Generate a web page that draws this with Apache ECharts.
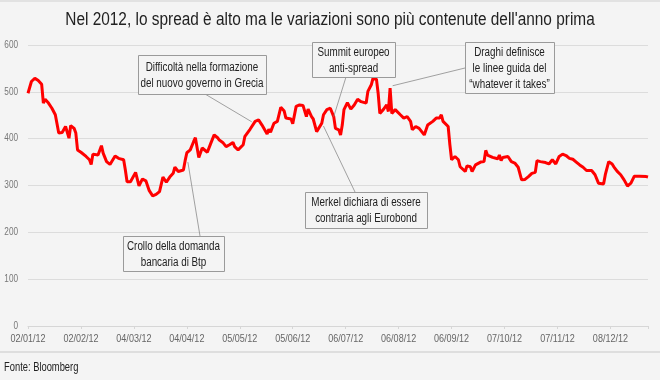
<!DOCTYPE html>
<html>
<head>
<meta charset="utf-8">
<script src="https://cdn.jsdelivr.net/npm/echarts@6/dist/echarts.min.js"></script>
<style>
html,body{margin:0;padding:0;background:#f4f4f4;}
#c{width:660px;height:380px;}
</style>
</head>
<body>
<div id="c"></div>
<script>
// Giorni trascorsi dal 02/01/12 (asse x) e spread in punti base
var days = [0,1,2,4,6,8,9,10,12,14,16,18,20,22,24,25,27,28,29,31,34,36,37,38,41,43,44,46,48,51,53,56,57,58,60,61,63,65,67,69,71,73,75,77,79,81,83,85,86,88,91,92,93,95,97,98,100,102,105,107,109,111,112,114,116,118,120,121,123,126,127,128,130,133,135,137,140,141,142,144,146,148,150,151,154,155,157,159,161,163,164,166,167,169,170,172,173,175,177,179,180,182,183,184,185,187,189,191,193,195,198,199,201,202,204,205,206,208,210,211,212,213,215,218,220,222,224,225,227,229,232,234,237,239,241,242,243,246,247,248,250,252,253,254,256,257,259,260,262,265,267,268,269,272,275,276,277,278,281,283,285,287,289,291,293,295,297,298,300,303,305,307,309,311,313,315,317,319,321,323,325,327,330,332,334,337,338,339,340,342,343,345,347,349,351,353,355,358,362,363];
var spread = [497,499,522,529,524,516,476,484,476,465,451,412,413,426,401,428,422,412,376,371,362,355,345,367,365,385,369,351,345,363,358,355,333,308,308,312,328,299,314,310,289,278,281,287,318,307,318,326,339,330,333,353,370,376,394,402,360,380,371,390,408,402,397,392,383,387,392,383,376,387,405,401,420,437,440,429,410,420,414,433,437,467,459,444,442,432,469,472,471,447,463,447,442,415,417,433,451,462,465,447,422,419,408,429,462,477,463,472,484,479,476,501,515,529,527,497,454,462,472,458,508,454,462,451,444,447,437,419,426,422,408,429,437,444,444,451,437,426,387,355,362,355,340,344,330,342,340,330,344,350,351,375,365,360,357,365,353,360,362,351,348,339,312,313,319,326,328,353,351,349,346,355,346,362,367,364,358,356,350,344,339,332,332,323,305,303,323,326,351,346,340,330,323,312,299,305,320,320,319,318];
var xTickLabels = ['02/01/12','02/02/12','04/03/12','04/04/12','05/05/12','05/06/12','06/07/12','06/08/12','06/09/12','07/10/12','07/11/12','08/12/12'];
var yTicks = [0,100,200,300,400,500,600];
var titleText = "Nel 2012, lo spread è alto ma le variazioni sono più contenute dell'anno prima";
var sourceText = 'Fonte: Bloomberg';
var annotTexts = [
  ['Difficoltà nella formazione','del nuovo governo in Grecia'],
  ['Summit europeo','anti-spread'],
  ['Draghi definisce','le linee guida del','“whatever it takes”'],
  ['Merkel dichiara di essere','contraria agli Eurobond'],
  ['Crollo della domanda','bancaria di Btp']
];
// punto del grafico indicato da ciascuna annotazione [giorno, spread]
var annotAt = [[131,436],[179,447],[213.5,513],[173,427],[93.6,350]];

var SANS = '"Liberation Sans", Arial, sans-serif';
var XSTEP = 31;
var chart = echarts.init(document.getElementById('c'), null, {renderer:'canvas'});
var series = days.map(function(d,i){return [d, spread[i]];});
var option = {
  backgroundColor:'#f4f4f4',
  animation:false,
  grid:{left:28,right:12,top:45,bottom:54},
  xAxis:{type:'value',min:0,max:363,interval:XSTEP,
    axisLine:{show:true,lineStyle:{color:'#d6d6d6',width:1}},
    axisTick:{show:true,length:3,lineStyle:{color:'#d6d6d6'}},
    splitLine:{show:false},
    axisLabel:{show:false}
  },
  yAxis:{type:'value',min:yTicks[0],max:yTicks[yTicks.length-1],interval:100,
    axisLine:{show:false},axisTick:{show:false},
    splitLine:{lineStyle:{color:'#dcdcdc',width:1}},
    axisLabel:{show:false}
  },
  series:[{type:'line',data:series,symbol:'none',lineStyle:{color:'#ff0000',width:3},itemStyle:{color:'#ff0000'},z:3}]
};
chart.setOption(option);

var boxes = [[138,55,128,39],[312,42,83,35],[465,42,89,51],[305,192,122,36],[123,236,101,35]];
var froms = [[205,94],[346,77],[465,68],[355,192],[200,236]];
var g = [
  {type:'line',shape:{x1:0,y1:352,x2:660,y2:352},style:{stroke:'#dedede',lineWidth:2},silent:true},
  {type:'line',shape:{x1:0,y1:1,x2:660,y2:1},style:{stroke:'#e2e2e2',lineWidth:2},silent:true},
  {type:'text',x:330,y:20,scaleX:0.88,style:{text:titleText,font:'17.5px '+SANS,fill:'#222',align:'center',verticalAlign:'middle'},silent:true},
  {type:'text',x:4,y:368,scaleX:0.78,style:{text:sourceText,font:'12px '+SANS,fill:'#222',align:'left',verticalAlign:'middle'},silent:true}
];
// etichette dell'asse x, posizionate tramite la scala dell'asse
xTickLabels.forEach(function(t,i){
  var px = chart.convertToPixel({xAxisIndex:0}, i*XSTEP);
  g.push({type:'text',x:px,y:339,scaleX:0.82,style:{text:t,font:'11px '+SANS,fill:'#666',align:'center',verticalAlign:'middle'},silent:true});
});
yTicks.forEach(function(t){
  var py = chart.convertToPixel({yAxisIndex:0}, t);
  g.push({type:'text',x:18,y:py,scaleX:0.82,style:{text:String(t),font:'10px '+SANS,fill:'#777',align:'right',verticalAlign:'middle'},silent:true});
});
annotTexts.forEach(function(lines,i){
  var p = chart.convertToPixel({gridIndex:0}, annotAt[i]);
  var b = boxes[i];
  g.push({type:'line',shape:{x1:froms[i][0],y1:froms[i][1],x2:p[0],y2:p[1]},style:{stroke:'#8a8a8a',lineWidth:0.8},z:10,silent:true});
  g.push({type:'rect',shape:{x:b[0]+0.5,y:b[1]+0.5,width:b[2],height:b[3]},style:{fill:'#f4f4f4',stroke:'#9a9a9a',lineWidth:1},z:11,silent:true});
  g.push({type:'text',x:b[0]+b[2]/2,y:b[1]+b[3]/2+1,scaleX:0.8,style:{text:lines.join('\n'),font:'12.3px '+SANS,fill:'#222',align:'center',verticalAlign:'middle',lineHeight:16},z:12,silent:true});
});
chart.setOption({graphic:g});
</script>
</body>
</html>
